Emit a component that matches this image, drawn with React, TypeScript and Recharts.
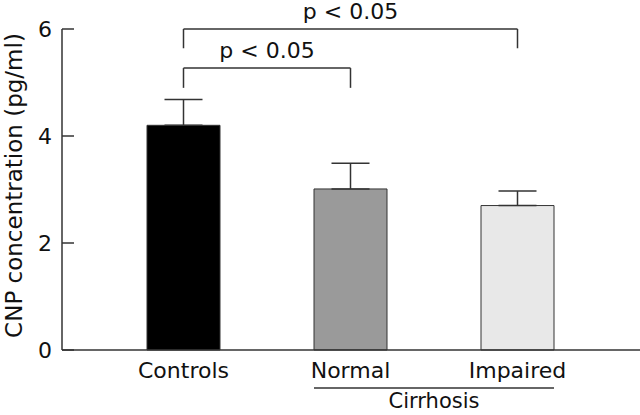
import React from 'react';
import { BarChart, Bar, XAxis, YAxis, ErrorBar, Cell, ReferenceLine } from 'recharts';

const CATEGORIES = ['Controls', 'Normal', 'Impaired'];
const MEANS = [4.2, 3.01, 2.7];
const SEM = [0.48, 0.48, 0.27];
const FILLS = ['#000000', '#9a9a9a', '#e8e8e8'];
const Y_TICKS = [0, 2, 4, 6];

const FONT = '"DejaVu Sans", "Liberation Sans", Arial, sans-serif';
const INK = '#333';

const data = CATEGORIES.map((name, i) => ({ name, value: MEANS[i], err: [0, SEM[i]] }));

const YLabel: React.FC<any> = ({ viewBox }) => {
  const cx = viewBox.x + 14;
  const cy = viewBox.y + viewBox.height / 2 - 4;
  return (
    <text
      x={cx}
      y={cy}
      transform={`rotate(-90 ${cx} ${cy})`}
      textAnchor="middle"
      dominantBaseline="central"
      fontSize={23}
      fontFamily={FONT}
      fill="#111"
    >
      CNP concentration (pg/ml)
    </text>
  );
};

// group line under the two cirrhosis bars, spans from bar edge to bar edge
const HALF_BAR = 36.5;
const CirrhosisShape: React.FC<any> = ({ x1, y1, x2 }) => (
  <g>
    <line x1={x1 - HALF_BAR} y1={y1} x2={x2 + HALF_BAR} y2={y1} stroke={INK} strokeWidth={1.5} />
    <text x={(x1 + x2) / 2} y={y1 + 20} textAnchor="middle" fontSize={21} fontFamily={FONT} fill="#111">
      Cirrhosis
    </text>
  </g>
);

const pLabel = { value: 'p < 0.05', position: 'top' as const, offset: 10, fontSize: 22, fontFamily: FONT, fill: '#111' };
const lineStyle = { stroke: INK, strokeWidth: 1.5 };

export default function App() {
  return (
    <div style={{ position: 'absolute', left: 0, top: 0 }}>
      <BarChart width={640} height={415} data={data} margin={{ top: 29, right: 0, bottom: 0, left: 0 }}>
        <XAxis
          dataKey="name"
          height={65}
          padding={{ left: 38, right: 39 }}
          tickLine={false}
          tickSize={0}
          tickMargin={12}
          axisLine={lineStyle}
          tick={{ fill: '#111', fontSize: 22, fontFamily: FONT }}
        />
        <YAxis
          width={62}
          domain={[0, 6]}
          ticks={Y_TICKS}
          tickSize={-12}
          tickMargin={22}
          axisLine={lineStyle}
          tickLine={lineStyle}
          tick={{ fill: '#111', fontSize: 22, fontFamily: FONT }}
          label={<YLabel />}
        />
        <Bar dataKey="value" barSize={73} stroke={INK} strokeWidth={1} isAnimationActive={false}>
          {data.map((d, i) => (
            <Cell key={d.name} fill={FILLS[i]} />
          ))}
          <ErrorBar dataKey="err" width={19} stroke={INK} strokeWidth={1.5} direction="y" isAnimationActive={false} />
        </Bar>

        {/* Controls vs Impaired */}
        <ReferenceLine segment={[{ x: 'Controls', y: 6 }, { x: 'Impaired', y: 6 }]} {...lineStyle} label={pLabel} />
        <ReferenceLine segment={[{ x: 'Controls', y: 6 }, { x: 'Controls', y: 5.64 }]} {...lineStyle} />
        <ReferenceLine segment={[{ x: 'Impaired', y: 6 }, { x: 'Impaired', y: 5.64 }]} {...lineStyle} />

        {/* Controls vs Normal */}
        <ReferenceLine segment={[{ x: 'Controls', y: 5.27 }, { x: 'Normal', y: 5.27 }]} {...lineStyle} label={pLabel} />
        <ReferenceLine segment={[{ x: 'Controls', y: 5.27 }, { x: 'Controls', y: 4.9 }]} {...lineStyle} />
        <ReferenceLine segment={[{ x: 'Normal', y: 5.27 }, { x: 'Normal', y: 4.9 }]} {...lineStyle} />

        <ReferenceLine
          segment={[{ x: 'Normal', y: -0.71 }, { x: 'Impaired', y: -0.71 }]}
          ifOverflow="visible"
          shape={<CirrhosisShape />}
        />
      </BarChart>
    </div>
  );
}
